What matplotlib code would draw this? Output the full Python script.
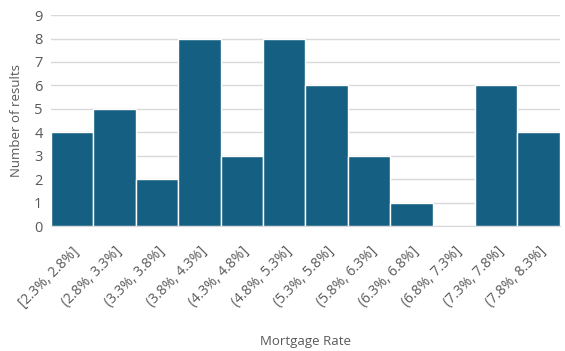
import numpy as np
import matplotlib.pyplot as plt
from matplotlib.transforms import ScaledTranslation

plt.rcParams['font.family'] = ['Open Sans', 'DejaVu Sans']

bins = ["[2.3%, 2.8%]", "(2.8%, 3.3%]", "(3.3%, 3.8%]", "(3.8%, 4.3%]",
        "(4.3%, 4.8%]", "(4.8%, 5.3%]", "(5.3%, 5.8%]", "(5.8%, 6.3%]",
        "(6.3%, 6.8%]", "(6.8%, 7.3%]", "(7.3%, 7.8%]", "(7.8%, 8.3%]"]
counts = [4, 5, 2, 8, 3, 8, 6, 3, 1, 0, 6, 4]

grey = "#595959"

fig = plt.figure(figsize=(5.65, 3.51), dpi=100)
ax = fig.add_axes([0.09, 0.356, 0.901, 0.601])

x = np.arange(len(bins))
ax.bar(x, counts, width=1.0, color="#156082", edgecolor="white", linewidth=1.0, zorder=3)

ax.set_xlim(-0.5, len(bins) - 0.5)
ax.set_ylim(0, 9)
ax.set_yticks(range(0, 10))
ax.yaxis.grid(True, color="#D9D9D9", linewidth=1, zorder=0)
ax.set_xticks(x)
ax.set_xticklabels(bins, rotation=45, ha="right", rotation_mode="anchor",
                   fontsize=10, color=grey)
# nudge rotated labels a bit to the right, like the original
shift = ScaledTranslation(8 / 72, 0, fig.dpi_scale_trans)
for lab in ax.get_xticklabels():
    lab.set_transform(lab.get_transform() + shift)
ax.tick_params(axis="x", length=0, pad=13)
ax.tick_params(axis="y", length=0, pad=6, labelsize=10.5, labelcolor=grey)

for s in ["top", "right", "left"]:
    ax.spines[s].set_visible(False)
ax.spines["bottom"].set_color("#D9D9D9")

ax.set_ylabel("Number of results", fontsize=9.5, color=grey, labelpad=8)
ax.set_xlabel("Mortgage Rate", fontsize=9.5, color=grey, labelpad=18)

fig.savefig("out.png", dpi=100)
